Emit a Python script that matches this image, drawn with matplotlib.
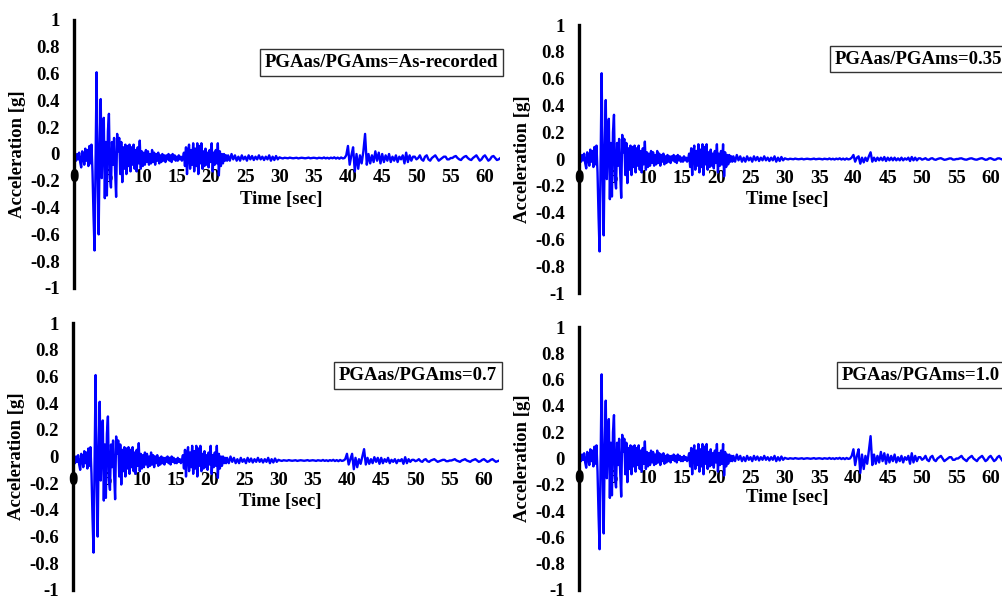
import numpy as np
import matplotlib
matplotlib.use("Agg")
import matplotlib.pyplot as plt

plt.rcParams["font.family"] = ["Liberation Serif", "DejaVu Serif"]
plt.rcParams["font.weight"] = "bold"

# --- data ----------------------------------------------------------------
# shared main-shock part, sampled every 0.15 s from t = 0
main_dt = 0.15
main_acc = [
    0.00, 0.02, -0.02, 0.03, -0.01, 0.04, -0.03, -0.07, 0.05, 0.02,
    -0.05, 0.07, -0.02, 0.06, -0.06, 0.09, -0.04, 0.10, -0.10, -0.43,
    -0.69, 0.00, 0.64, -0.10, -0.57, 0.10, 0.44, -0.15, 0.15, 0.30,
    -0.30, 0.12, -0.28, 0.20, 0.33, -0.15, -0.22, 0.12, -0.05, 0.15,
    -0.10, -0.29, 0.18, 0.05, 0.15, -0.12, 0.12, -0.18, 0.08, -0.08,
    0.10, -0.12, 0.09, -0.06, 0.10, -0.10, 0.08, -0.05, 0.10, -0.08,
    0.06, -0.10, 0.08, -0.04, 0.13, -0.08, 0.05, -0.06, 0.04, -0.05,
    0.06, -0.03, 0.05, -0.05, 0.03, -0.04, 0.06, -0.03, 0.04, -0.05,
    0.03, -0.02, 0.04, -0.04, 0.02, -0.03, 0.03, -0.02, 0.02, -0.03,
    0.02, -0.01, 0.03, -0.02, 0.02, -0.03, 0.03, -0.01, 0.02, -0.02,
    0.01, -0.02, 0.02, -0.01, 0.01, -0.02, 0.00, 0.04, -0.06, 0.08,
    -0.12, 0.05, 0.10, -0.08, 0.06, -0.05, 0.11, -0.10, 0.07, -0.06,
    0.11, -0.12, 0.09, -0.04, 0.11, -0.08, 0.05, -0.06, 0.07, -0.05,
    0.04, -0.07, 0.06, -0.03, 0.11, -0.10, 0.04, -0.05, 0.06, -0.04,
    0.11, -0.13, 0.05, -0.06, 0.03, -0.04, 0.03, -0.02, 0.02, -0.02,
]

# shared quiet part, every 0.25 s from t = 22.5
quiet_t0 = 22.5
quiet_dt = 0.25
quiet_acc = [
    0.02, -0.02, 0.03, -0.01, 0.02, -0.02, 0.01, -0.02, 0.02, -0.01,
    0.01, -0.02, 0.02, -0.01, 0.015, -0.015, 0.01, -0.01, 0.02, -0.01,
    0.01, -0.015, 0.01, -0.01, 0.02, -0.02, 0.01, -0.015, 0.015, -0.01,
    0.005, 0.0, -0.003, 0.002, 0.0, -0.002, 0.003, 0.0, -0.002, 0.0,
    0.002, -0.003, 0.0, 0.002, 0.0, -0.002, 0.0, 0.003, -0.002, 0.0,
    0.002, 0.0, -0.003, 0.002, 0.0, -0.002, 0.004, -0.003, 0.002, -0.004,
    0.003, -0.002, 0.005, -0.004, 0.003, -0.005, 0.004, -0.003,
]

# after-shock part per panel, every 0.25 s from t = 39.5
after_t0 = 39.5
after_dt = 0.25
after_as_recorded = [
    0.0, 0.02, 0.09, -0.05, 0.02, 0.08, -0.10, 0.03, -0.08, 0.02,
    -0.04, 0.05, 0.18, -0.05, 0.03, -0.04, 0.02, -0.03, 0.05, -0.02,
    0.04, -0.04, 0.03, -0.03, 0.02, -0.02, 0.03, -0.03, 0.01, -0.02,
    0.02, -0.03, 0.01, -0.01, 0.02, -0.04, 0.04, -0.03, 0.02, -0.02,
    0.01, 0.01, -0.01, 0.0, 0.02, -0.01, -0.02, 0.01, 0.02, -0.01,
    -0.02, 0.0, 0.01, 0.02, 0.0, -0.02, -0.01, 0.0, 0.01, 0.01,
    -0.01, -0.01, 0.0, 0.0, 0.01, 0.015, 0.0, -0.01, -0.015, 0.0,
    0.01, 0.015, 0.0, -0.01, -0.015, 0.0, 0.01, 0.02, 0.0, -0.02,
    -0.01, 0.01, 0.02, 0.0, -0.02, -0.01, 0.01, 0.015, 0.0, -0.015,
    -0.01, 0.0,
]
after_035 = [
    0.0, 0.01, 0.03, -0.02, 0.01, 0.02, -0.035, 0.01, -0.025, 0.01,
    -0.015, 0.02, 0.05, -0.02, 0.01, -0.015, 0.01, -0.01, 0.01, -0.01,
    0.015, -0.015, 0.01, -0.01, 0.01, -0.01, 0.01, -0.01, 0.005, -0.01,
    0.01, -0.01, 0.005, -0.005, 0.01, -0.015, 0.015, -0.01, 0.01, -0.01,
    0.005, 0.005, -0.005, 0.0, 0.006, -0.004, -0.006, 0.003, 0.006, -0.003,
    -0.006, 0.0, 0.004, 0.006, 0.0, -0.006, -0.004, 0.0, 0.004, 0.004,
    -0.004, -0.004, 0.0, 0.0, 0.004, 0.005, 0.0, -0.004, -0.005, 0.0,
    0.004, 0.005, 0.0, -0.004, -0.005, 0.0, 0.004, 0.006, 0.0, -0.006,
    -0.004, 0.004, 0.006, 0.0, -0.006, -0.004, 0.004, 0.005, 0.0, -0.005,
    -0.004, 0.0,
]
after_07 = [
    0.0, 0.01, 0.05, -0.03, 0.01, 0.05, -0.065, 0.02, -0.05, 0.01,
    -0.025, 0.03, 0.085, -0.03, 0.02, -0.025, 0.01, -0.02, 0.025, -0.01,
    0.02, -0.025, 0.02, -0.02, 0.01, -0.01, 0.02, -0.02, 0.005, -0.01,
    0.01, -0.02, 0.005, -0.005, 0.01, -0.025, 0.025, -0.02, 0.01, -0.01,
    0.005, 0.005, -0.005, 0.0, 0.01, -0.005, -0.01, 0.005, 0.01, -0.005,
    -0.01, 0.0, 0.005, 0.01, 0.0, -0.01, -0.005, 0.0, 0.005, 0.005,
    -0.005, -0.005, 0.0, 0.0, 0.005, 0.01, 0.0, -0.005, -0.01, 0.0,
    0.005, 0.01, 0.0, -0.005, -0.01, 0.0, 0.005, 0.01, 0.0, -0.01,
    -0.005, 0.005, 0.01, 0.0, -0.01, -0.005, 0.005, 0.01, 0.0, -0.01,
    -0.005, 0.0,
]
after_10 = [
    0.0, 0.02, 0.07, -0.05, 0.02, 0.07, -0.11, 0.03, -0.08, 0.02,
    -0.04, 0.06, 0.17, -0.05, 0.03, -0.04, 0.02, -0.03, 0.05, -0.02,
    0.04, -0.04, 0.03, -0.03, 0.02, -0.02, 0.03, -0.03, 0.01, -0.02,
    0.02, -0.03, 0.01, -0.01, 0.02, -0.04, 0.04, -0.03, 0.02, -0.02,
    0.01, 0.01, -0.01, 0.0, 0.02, -0.01, -0.02, 0.01, 0.02, -0.01,
    -0.02, 0.0, 0.01, 0.02, 0.0, -0.02, -0.01, 0.0, 0.01, 0.01,
    -0.01, -0.01, 0.0, 0.0, 0.01, 0.02, 0.0, -0.01, -0.02, 0.0,
    0.01, 0.02, 0.0, -0.01, -0.02, 0.0, 0.01, 0.02, 0.0, -0.02,
    -0.01, 0.01, 0.02, 0.0, -0.02, -0.01, 0.01, 0.02, 0.0, -0.02,
    -0.01, 0.0,
]

panel_titles = ["PGAas/PGAms=As-recorded", "PGAas/PGAms=0.35",
                "PGAas/PGAms=0.7", "PGAas/PGAms=1.0"]
panel_after = [after_as_recorded, after_035, after_07, after_10]
baseline = [-0.03, 0.0, -0.03, 0.0]   # record offset seen in each panel

x_ticks = list(range(0, 65, 5))
y_ticks = [1, 0.8, 0.6, 0.4, 0.2, 0, -0.2, -0.4, -0.6, -0.8, -1]
y_tick_labels = ["1", "0.8", "0.6", "0.4", "0.2", "0", "-0.2", "-0.4",
                 "-0.6", "-0.8", "-1"]

# --- layout (pixels, top-left origin) ---------------------------------------
W, H = 1003, 600
# left, right, top, bottom, x max, box centre (axes frac),
# x tick pad (pt), x-label y (data)
panels = [
    (74, 500, 20, 288, 62.2, (0.722, 0.841), 11, -0.34),
    (579, 1003, 25, 293, 61.8, (0.800, 0.873), 8, -0.30),
    (73, 499, 323, 590, 62.2, (0.810, 0.804), 11, -0.34),
    (579, 1003, 327, 590, 61.8, (0.805, 0.817), 8, -0.30),
]

fig = plt.figure(figsize=(W / 100, H / 100), dpi=100)

t_main = main_dt * np.arange(len(main_acc))
t_quiet = quiet_t0 + quiet_dt * np.arange(len(quiet_acc))

for k, (x0, x1, y0, y1, xmax, box_xy, xpad, xlab_y) in enumerate(panels):
    ax = fig.add_axes([x0 / W, 1 - y1 / H, (x1 - x0) / W, (y1 - y0) / H])
    after = panel_after[k]
    t_after = after_t0 + after_dt * np.arange(len(after))
    t = np.concatenate([t_main, t_quiet, t_after])
    acc = np.concatenate([main_acc, quiet_acc, after]) + baseline[k]
    ax.plot(t, acc, color="#0000FF", lw=1.7, zorder=2)

    ax.set_xlim(0, xmax)
    ax.set_ylim(-1, 1)
    for s in ["top", "right"]:
        ax.spines[s].set_visible(False)
    ax.spines["bottom"].set_position(("data", 0))
    ax.spines["bottom"].set_visible(False)
    ax.spines["left"].set_linewidth(2.4)
    ax.spines["left"].set_zorder(3)

    ax.set_xticks(x_ticks)
    ax.set_xticklabels([str(v) for v in x_ticks])
    ax.set_yticks(y_ticks)
    ax.set_yticklabels(y_tick_labels)
    ax.tick_params(axis="x", length=0, pad=xpad, labelsize=13.5)
    ax.tick_params(axis="y", length=0, pad=10, labelsize=13.5)
    for lab in ax.get_xticklabels() + ax.get_yticklabels():
        lab.set_fontweight("bold")

    ax.set_ylabel("Acceleration [g]", fontsize=13.5, fontweight="bold")
    ax.yaxis.set_label_coords(-0.113, 0.5)
    ax.text(30.3, xlab_y, "Time [sec]", ha="center", va="center",
            fontsize=13.5, fontweight="bold")

    ax.text(box_xy[0], box_xy[1], panel_titles[k], transform=ax.transAxes,
            ha="center", va="center", fontsize=13.5, fontweight="bold",
            clip_on=False,
            bbox=dict(boxstyle="square,pad=0.25", fc="white",
                      ec="#333333", lw=1.0))

fig.savefig("out.png", dpi=100)
